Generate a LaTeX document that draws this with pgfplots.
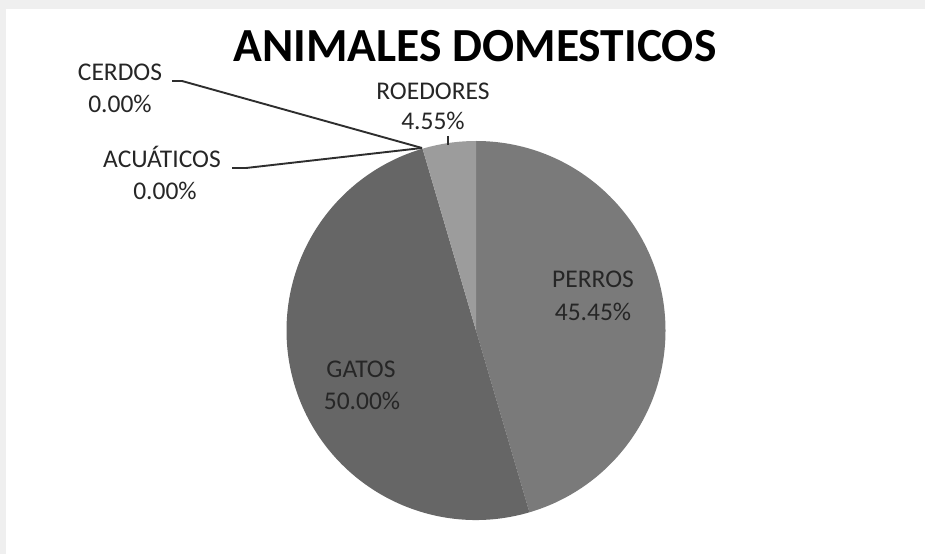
\documentclass[border=0pt]{standalone}
\usepackage{pgfplots}
\pgfplotsset{compat=1.18}
\usepackage{pgfplotstable}
\usepackage{fontspec}
\setmainfont{Carlito}

\definecolor{perros}{HTML}{7A7A7A}
\definecolor{gatos}{HTML}{666666}
\definecolor{roedores}{HTML}{9C9C9C}
\definecolor{marco}{HTML}{EFEFEF}
\definecolor{guia}{HTML}{2E2E2E}
\definecolor{texto}{HTML}{262626}

\tikzset{lbl/.style={font=\fontsize{25.5}{30}\selectfont, text=texto, anchor=base, inner sep=0pt}}

% shares in %, clockwise from 12 o'clock
\pgfplotstableread{
animal    pct
PERROS    45.45
GATOS     50.00
ACUATICOS 0.00
CERDOS    0.00
ROEDORES  4.55
}\pietable

\begin{document}
\begin{tikzpicture}
\pgfplotstablegetelem{0}{pct}\of\pietable \let\pA\pgfplotsretval
\pgfplotstablegetelem{1}{pct}\of\pietable \let\pB\pgfplotsretval
\pgfplotstablegetelem{4}{pct}\of\pietable \let\pE\pgfplotsretval
\pgfmathsetmacro\aA{90-3.6*\pA}
\pgfmathsetmacro\aB{\aA-3.6*\pB}
\pgfmathsetmacro\aC{\aB-3.6*\pE}
\begin{axis}[
    width=925pt, height=554pt, scale only axis,
    xmin=0, xmax=925, ymin=0, ymax=554,
    axis lines=none, ticks=none, clip=false,
]
% background and frame
\fill[marco] (axis cs:0,0) rectangle (axis cs:925,554);
\fill[white] (axis cs:6,0) rectangle (axis cs:925,545);

% slices (1 axis unit = 1pt)
\fill[perros] (axis cs:476,223.5) -- ++(90:189.5pt)
    arc[start angle=90, end angle=\aA, radius=189.5pt] -- cycle;
\fill[gatos] (axis cs:476,223.5) -- ++(\aA:189.5pt)
    arc[start angle=\aA, end angle=\aB, radius=189.5pt] -- cycle;
\fill[roedores] (axis cs:476,223.5) -- ++(\aB:189.5pt)
    arc[start angle=\aB, end angle=\aC, radius=189.5pt] -- cycle;

% leader lines
\draw[guia, line width=1.9pt] (axis cs:172,473) -- (axis cs:182,473) -- (axis cs:422,406);
\draw[guia, line width=1.9pt] (axis cs:232,386) -- (axis cs:246,386) -- (axis cs:422,406);
\draw[guia, line width=1.6pt] (axis cs:448,418) -- (axis cs:448,409);

% title
\node[font=\fontsize{47.5}{52}\selectfont\bfseries, text=black, anchor=base, inner sep=0pt]
    at (axis cs:475,492) {ANIMALES DOMESTICOS};

% labels
\node[lbl] at (axis cs:120,473) {CERDOS};
\node[lbl] at (axis cs:120,441) {0.00\%};
\node[lbl] at (axis cs:162,386) {ACUÁTICOS};
\node[lbl] at (axis cs:165,354) {0.00\%};
\node[lbl] at (axis cs:433,454) {ROEDORES};
\node[lbl] at (axis cs:433,424) {4.55\%};
\node[lbl] at (axis cs:593,266) {PERROS};
\node[lbl] at (axis cs:593,233) {45.45\%};
\node[lbl] at (axis cs:361,176) {GATOS};
\node[lbl] at (axis cs:362,144) {50.00\%};
\end{axis}
\end{tikzpicture}
\end{document}
